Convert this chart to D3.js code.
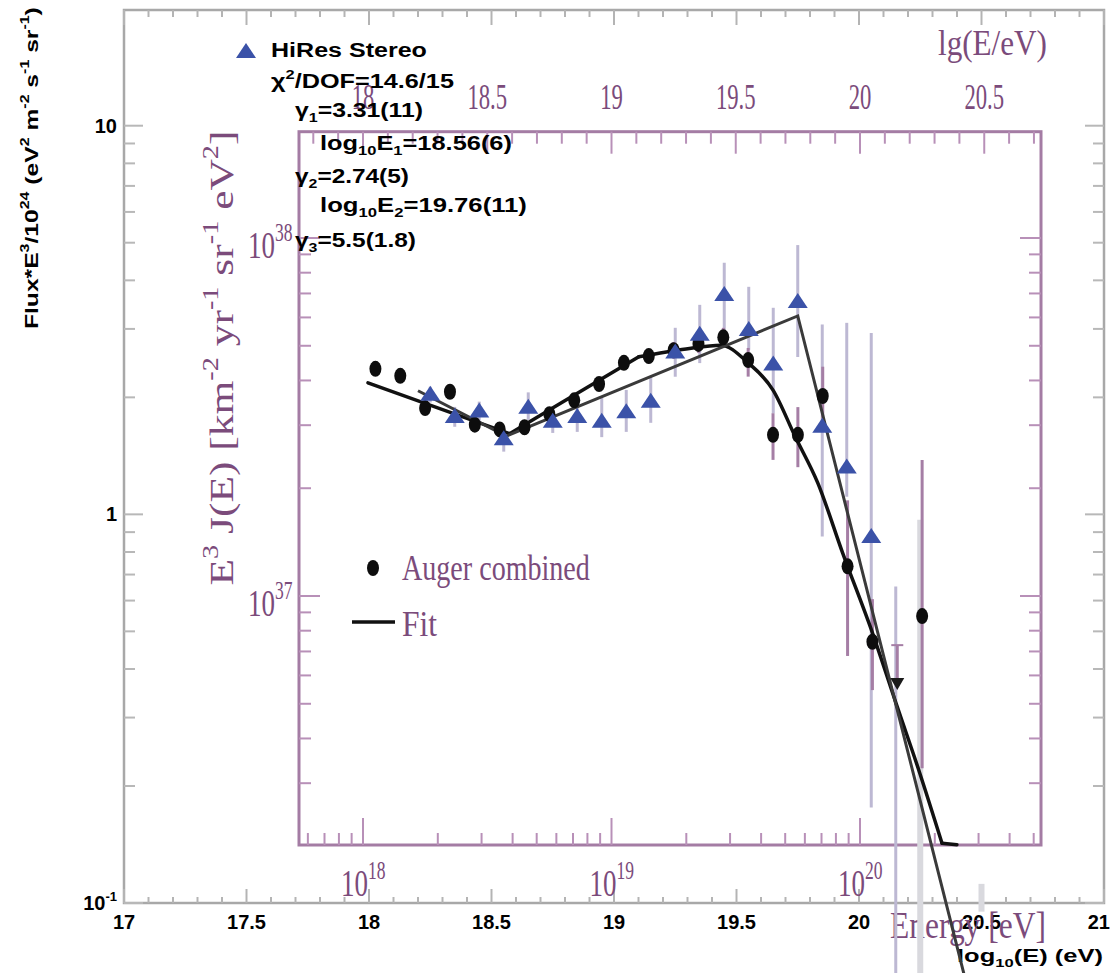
<!DOCTYPE html>
<html>
<head>
<meta charset="utf-8">
<script src="https://cdn.jsdelivr.net/npm/d3@7"></script>
<style>
body { margin: 0; background: #fff; }
svg { display: block; }
</style>
</head>
<body>
<svg width="1111" height="973"></svg>
<script>
// ---------- HiRes Stereo (outer plot: Flux*E^3/1e24 vs log10 E) ----------
var hiresLgE  = [18.25, 18.35, 18.45, 18.55, 18.65, 18.75, 18.85, 18.95, 19.05, 19.15,
                 19.25, 19.35, 19.45, 19.55, 19.65, 19.75, 19.85, 19.95, 20.05];
var hiresFlux = [2.03, 1.78, 1.84, 1.56, 1.88, 1.73, 1.78, 1.73, 1.83, 1.95,
                 2.61, 2.90, 3.67, 2.98, 2.43, 3.52, 1.68, 1.32, 0.875];
var hiresHi   = [2.13, 1.89, 1.95, 1.67, 2.06, 1.89, 1.97, 2.00, 2.09, 2.26,
                 3.02, 3.46, 4.44, 3.85, 3.40, 4.93, 3.08, 3.11, 2.93];
var hiresLo   = [1.94, 1.68, 1.72, 1.45, 1.75, 1.62, 1.63, 1.58, 1.63, 1.72,
                 2.26, 2.45, 2.81, 2.65, 1.82, 2.54, 0.877, 1.11, 0.176];
// bars with no marker at the top energies
var hiresLimLgE = [20.15, 20.25, 20.5];
var hiresLimHi  = [0.652, 0.969, 0.112];
var hiresLimLo  = [0.04, 0.04, 0.095];
// broken power law fit
var hiresFitLgE  = [18.2, 18.56, 19.75, 20.45];
var hiresFitFlux = [2.08, 1.59, 3.24, 0.058];

// ---------- Auger combined (inner plot: E^3 J(E) vs E) ----------
var augerLgE = [18.05, 18.15, 18.25, 18.35, 18.45, 18.55, 18.65, 18.75, 18.85, 18.95, 19.05,
                19.15, 19.25, 19.35, 19.45, 19.55, 19.65, 19.75, 19.85, 19.95, 20.05, 20.25];
var augerJ   = [4.31e37, 4.12e37, 3.35e37, 3.72e37, 3.01e37, 2.92e37, 2.96e37, 3.22e37, 3.52e37, 3.91e37, 4.48e37,
                4.68e37, 4.86e37, 5.06e37, 5.28e37, 4.56e37, 2.82e37, 2.82e37, 3.62e37, 1.21e37, 7.45e36, 8.79e36];
var augerHi  = [4.45e37, 4.26e37, 3.47e37, 3.86e37, 3.12e37, 3.02e37, 3.06e37, 3.33e37, 3.64e37, 4.05e37, 4.66e37,
                4.90e37, 5.12e37, 5.36e37, 5.61e37, 4.93e37, 3.24e37, 3.37e37, 4.37e37, 1.85e37, 9.8e36, 2.40e37];
var augerLo  = [4.17e37, 3.98e37, 3.23e37, 3.58e37, 2.90e37, 2.82e37, 2.86e37, 3.11e37, 3.40e37, 3.77e37, 4.30e37,
                4.46e37, 4.60e37, 4.78e37, 5.02e37, 4.10e37, 2.40e37, 2.29e37, 3.01e37, 6.8e36, 5.46e36, 3.3e36];
// point drawn as a down triangle
var augerLimLgE = [20.15];
var augerLimJ   = [5.71e36];
var augerLimHi  = [7.29e36];
// fit curve: straight ankle part, then smooth suppression part
var augerFitLgE = [18.02, 18.59, 18.80, 19.11];
var augerFitJ   = [3.94e37, 2.84e37, 3.47e37, 4.66e37];
var augerCutLgE = [19.11, 19.30, 19.44, 19.55, 19.65, 19.74, 19.83, 19.93, 20.05, 20.15, 20.24, 20.33];
var augerCutJ   = [4.66e37, 4.90e37, 5.02e37, 4.48e37, 3.76e37, 2.78e37, 2.07e37, 1.32e37, 7.89e36, 4.90e36, 3.21e36, 2.04e36];
var augerTailLgE = [20.33, 20.39];
var augerTailJ   = [2.04e36, 2.02e36];

// ---------- tick labels ----------
var outerXTicks = [17, 17.5, 18, 18.5, 19, 19.5, 20, 20.5, 21];
var outerYTicks = [0.1, 1, 10];
var outerYLabels = [["10", ["-1", 1]], ["1"], ["10"]];
var innerTopTicks = [18, 18.5, 19, 19.5, 20, 20.5];
var innerBottomTicks = [18, 19, 20];
var innerLeftTicks = [37, 38];

var svg = d3.select("svg");
var outer = {left: 124, right: 1104, top: 10, bottom: 903};
var inner = {left: 299, right: 1041, top: 131.7, bottom: 845};

var grey = "#a8a8a8", purple = "#a47ca4", purpleText = "#7b4b7b";
var sans = "'Liberation Sans', Arial, sans-serif";
var serif = "'Liberation Serif', 'Times New Roman', serif";

// scales
var xOut = d3.scaleLinear().domain([17, 21]).range([outer.left, outer.right]);
var yOut = d3.scaleLog().domain([0.1, 10]).range([903, 125.7]);
var xIn = d3.scaleLinear().domain([18, 20]).range([363, 860]);      // lg(E/eV)
var xInE = d3.scaleLog().domain([1e18, 1e20]).range([363, 860]);    // E in eV
var yIn = d3.scaleLog().domain([1e37, 1e38]).range([596, 238]);

// text helper: parts are strings or [string, 1 (sup) | -1 (sub)]
function label(parent, o) {
  var g = parent.append("g")
    .attr("transform", "translate(" + o.x + "," + o.y + ")" + (o.rotate ? " rotate(" + o.rotate + ")" : ""));
  var t = g.append("text")
    .attr("font-family", o.family || sans)
    .attr("font-weight", o.weight || "normal")
    .attr("font-size", o.size)
    .attr("fill", o.fill || "#000");
  var shift = 0;
  o.parts.forEach(function (p) {
    var s = typeof p === "string" ? [p, 0] : p;
    var target = s[1] === 1 ? -0.45 * o.size : (s[1] === -1 ? 0.25 * o.size : 0);
    t.append("tspan")
      .attr("dy", target - shift)
      .attr("font-size", s[1] ? o.size * 0.65 : o.size)
      .text(s[0]);
    shift = target;
  });
  var w = t.node().getComputedTextLength();
  var sx = o.width ? o.width / w : (o.sx || 1);
  var full = w * sx;
  var dx = o.anchor === "middle" ? -full / 2 : (o.anchor === "end" ? -full : 0);
  t.attr("transform", "translate(" + dx + ",0) scale(" + sx + ",1)");
  return g;
}

function tick(g, x1, y1, x2, y2, color, w) {
  g.append("line").attr("x1", x1).attr("y1", y1).attr("x2", x2).attr("y2", y2)
    .attr("stroke", color).attr("stroke-width", w);
}

// ================= outer frame (HiRes plot) =================
var go = svg.append("g").attr("class", "outer-axes");
go.append("rect")
  .attr("x", outer.left).attr("y", outer.top)
  .attr("width", outer.right - outer.left).attr("height", outer.bottom - outer.top)
  .attr("fill", "none").attr("stroke", grey).attr("stroke-width", 2.5);

d3.range(170, 211).forEach(function (i) {
  var v = i / 10, x = xOut(v), major = i % 5 === 0;
  tick(go, x, outer.bottom, x, outer.bottom - (major ? 14 : 6), "#b4b4b4", 2);
  tick(go, x, outer.top, x, outer.top + (major ? 15 : 7), "#b4b4b4", 2);
});
[-1, 0, 1].forEach(function (d) {
  d3.range(1, 10).forEach(function (m) {
    var v = m * Math.pow(10, d), y = yOut(v);
    if (y < outer.top + 2 || y > outer.bottom) return;
    var len = m === 1 ? 19 : 11;
    tick(go, outer.left, y, outer.left + len, y, "#b8b8b8", 2);
    tick(go, outer.right, y, outer.right - len, y, "#b8b8b8", 2);
  });
});

outerXTicks.forEach(function (v, i) {
  var last = i === outerXTicks.length - 1;
  label(go, {x: last ? 1110 : xOut(v), y: 929, size: 20, weight: "bold", anchor: last ? "end" : "middle",
    parts: [String(v)]});
});
outerYTicks.forEach(function (v, i) {
  label(go, {x: 117, y: yOut(v) + 7, size: 20, weight: "bold", anchor: "end", parts: outerYLabels[i]});
});

label(go, {x: 38, y: 168, rotate: -90, size: 19, weight: "bold", anchor: "middle", width: 322,
  parts: ["Flux*E", ["3", 1], "/10", ["24", 1], " (eV", ["2", 1], " m", ["-2", 1], " s", ["-1", 1],
          " sr", ["-1", 1], ")"]});
label(go, {x: 1103, y: 962, size: 18, weight: "bold", anchor: "end", width: 146,
  parts: ["log", ["10", -1], "(E) (eV)"]});

// ================= inner frame (Auger plot) =================
var gi = svg.append("g").attr("class", "inner-axes");
gi.append("rect")
  .attr("x", inner.left).attr("y", inner.top)
  .attr("width", inner.right - inner.left).attr("height", inner.bottom - inner.top)
  .attr("fill", "none").attr("stroke", purple).attr("stroke-width", 3);

// top axis, lg(E/eV), linear
d3.range(178, 208).forEach(function (i) {
  var x = xIn(i / 10), major = i % 5 === 0;
  tick(gi, x, inner.top, x, inner.top + (major ? 22 : 12), "#b890b8", 2);
});
// bottom axis, energy, log
[17, 18, 19, 20].forEach(function (d) {
  d3.range(1, 10).forEach(function (m) {
    var x = xInE(m * Math.pow(10, d));
    if (x <= inner.left + 2 || x >= inner.right - 1) return;
    tick(gi, x, inner.bottom, x, inner.bottom - (m === 1 ? 27 : 12), "#b890b8", 2);
  });
});
// left / right axes, log
[36, 37, 38].forEach(function (d) {
  d3.range(1, 10).forEach(function (m) {
    var y = yIn(m * Math.pow(10, d));
    if (y <= inner.top + 2 || y >= inner.bottom - 1) return;
    var len = m === 1 ? 21 : 12;
    tick(gi, inner.left, y, inner.left + len, y, "#b890b8", 2);
    tick(gi, inner.right, y, inner.right - len, y, "#b890b8", 2);
  });
});

innerTopTicks.forEach(function (v) {
  label(gi, {x: xIn(v), y: 109, size: 36, family: serif, fill: purpleText, anchor: "middle", sx: 0.63,
    parts: [String(v)]});
});
innerBottomTicks.forEach(function (d) {
  label(gi, {x: xIn(d) - 22, y: 896, size: 38, family: serif, fill: purpleText, sx: 0.71,
    parts: ["10", [String(d), 1]]});
});
innerLeftTicks.forEach(function (d) {
  label(gi, {x: 248, y: yIn(Math.pow(10, d)) + 20, size: 38, family: serif, fill: purpleText, sx: 0.71,
    parts: ["10", [String(d), 1]]});
});
label(gi, {x: 938, y: 55, size: 36, family: serif, fill: purpleText, width: 109, parts: ["lg(E/eV)"]});
label(gi, {x: 890, y: 938, size: 38, family: serif, fill: purpleText, width: 156, parts: ["Energy [eV]"]});
label(gi, {x: 233, y: 358, rotate: -90, size: 34, family: serif, fill: purpleText, anchor: "middle", width: 455,
  parts: ["E", ["3", 1], " J(E) [km", ["-2", 1], " yr", ["-1", 1], " sr", ["-1", 1], " eV", ["2", 1], "]"]});

// ================= error bars =================
var gb = svg.append("g").attr("class", "bars");
hiresLgE.forEach(function (v, i) {
  tick(gb, xOut(v), yOut(hiresHi[i]), xOut(v), yOut(hiresLo[i]), "#bdb8d3", 3);
});
hiresLimLgE.forEach(function (v, i) {
  var thick = i > 0;
  tick(gb, xOut(v), yOut(hiresLimHi[i]), xOut(v), yOut(hiresLimLo[i]),
    thick ? "#d9d9de" : "#bdb8d3", thick ? 6 : 3);
});
augerLgE.forEach(function (v, i) {
  var x = xInE(Math.pow(10, v));
  tick(gb, x, yIn(augerHi[i]), x, yIn(augerLo[i]), "#a57ea5", 3);
});
augerLimLgE.forEach(function (v, i) {
  var x = xInE(Math.pow(10, v));
  tick(gb, x, yIn(augerLimHi[i]), x, yIn(augerLimJ[i]), "#a57ea5", 3);
  tick(gb, x - 6, yIn(augerLimHi[i]), x + 6, yIn(augerLimHi[i]), "#a57ea5", 2);
});

// ================= fits =================
var gf = svg.append("g").attr("class", "fits");
function toInner(lg, j) { return lg.map(function (v, i) { return [xInE(Math.pow(10, v)), yIn(j[i])]; }); }
var hiresFit = hiresFitLgE.map(function (v, i) { return [xOut(v), yOut(hiresFitFlux[i])]; });
[[toInner(augerFitLgE, augerFitJ), d3.curveLinear],
 [toInner(augerCutLgE, augerCutJ), d3.curveMonotoneX],
 [toInner(augerTailLgE, augerTailJ), d3.curveLinear]].forEach(function (seg) {
  gf.append("path").attr("d", d3.line().curve(seg[1])(seg[0]))
    .attr("fill", "none").attr("stroke", "#111").attr("stroke-width", 3.5)
    .attr("stroke-linejoin", "round").attr("stroke-linecap", "round");
});
gf.append("path").attr("d", d3.line()(hiresFit))
  .attr("fill", "none").attr("stroke", "#3a3a3a").attr("stroke-width", 3);

// ================= markers =================
var gm = svg.append("g").attr("class", "markers");
augerLgE.forEach(function (v, i) {
  gm.append("ellipse")
    .attr("cx", xInE(Math.pow(10, v))).attr("cy", yIn(augerJ[i]))
    .attr("rx", 6).attr("ry", 8).attr("fill", "#0d0d0d");
});
augerLimLgE.forEach(function (v, i) {
  gm.append("path")
    .attr("transform", "translate(" + xInE(Math.pow(10, v)) + "," + yIn(augerLimJ[i]) + ")")
    .attr("d", "M-7,-5L7,-5L0,7Z").attr("fill", "#1a1a1a");
});
var tri = "M0,-9L10,6L-10,6Z";
hiresLgE.forEach(function (v, i) {
  gm.append("path")
    .attr("transform", "translate(" + xOut(v) + "," + yOut(hiresFlux[i]) + ")")
    .attr("d", tri).attr("fill", "#3b52a8");
});

// ================= legends and fit values =================
var gl = svg.append("g").attr("class", "legend");
gl.append("path").attr("transform", "translate(246,52)").attr("d", tri).attr("fill", "#3b52a8");
var stats = [
  {x: 271, y: 57, w: 156, parts: ["HiRes Stereo"]},
  {x: 271, y: 88, w: 183, parts: ["\u03c7", ["2", 1], "/DOF=14.6/15"]},
  {x: 295, y: 117, w: 128, parts: ["\u03b3", ["1", -1], "=3.31(11)"]},
  {x: 320, y: 150, w: 192, parts: ["log", ["10", -1], "E", ["1", -1], "=18.56(6)"]},
  {x: 295, y: 183, w: 114, parts: ["\u03b3", ["2", -1], "=2.74(5)"]},
  {x: 320, y: 212, w: 207, parts: ["log", ["10", -1], "E", ["2", -1], "=19.76(11)"]},
  {x: 295, y: 247, w: 121, parts: ["\u03b3", ["3", -1], "=5.5(1.8)"]}
];
stats.forEach(function (s) {
  label(gl, {x: s.x, y: s.y, size: 21, weight: "bold", width: s.w, parts: s.parts});
});

gl.append("ellipse").attr("cx", 373).attr("cy", 568).attr("rx", 6).attr("ry", 8).attr("fill", "#0d0d0d");
label(gl, {x: 402, y: 580, size: 36, family: serif, fill: purpleText, width: 188, parts: ["Auger combined"]});
tick(gl, 352, 622, 395, 622, "#111", 3.5);
label(gl, {x: 402, y: 636, size: 36, family: serif, fill: purpleText, width: 35, parts: ["Fit"]});
</script>
</body>
</html>
